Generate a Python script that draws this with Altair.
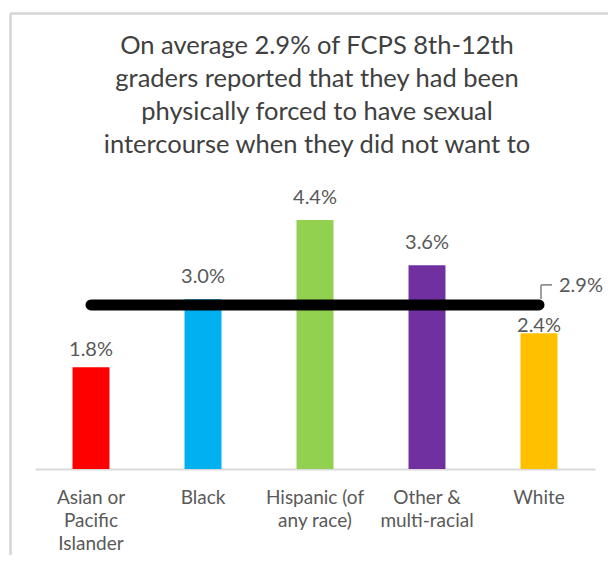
import altair as alt
import pandas as pd

categories = ["Asian or Pacific Islander", "Black", "Hispanic (of any race)", "Other & multi-racial", "White"]
values = [1.8, 3.0, 4.4, 3.6, 2.4]
colors = ["#FF0000", "#00B0F0", "#92D050", "#7030A0", "#FFC000"]
average = 2.9
title_lines = [
    "On average 2.9% of FCPS 8th-12th",
    "graders reported that they had been",
    "physically forced to have sexual",
    "intercourse when they did not want to",
]

df = pd.DataFrame({"group": categories, "pct": values})
df["label"] = [f"{v:.1f}%" for v in values]
avg_df = pd.DataFrame({"avg": [average], "group": [categories[-1]], "label": [f"{average}%"]})

FONT = "Lato"

x_scale = alt.Scale(domain=categories, range=[25, 585], paddingInner=0.67, paddingOuter=0.335)
y_scale = alt.Scale(domain=[0, 4.4], range=[456, 207], nice=False, zero=True)

label_expr = (
    "datum.value == 'Asian or Pacific Islander' ? ['Asian or', 'Pacific', 'Islander'] : "
    "datum.value == 'Hispanic (of any race)' ? ['Hispanic (of', 'any race)'] : "
    "datum.value == 'Other & multi-racial' ? ['Other &', 'multi-racial'] : datum.value"
)

x_enc = alt.X(
    "group:N",
    scale=x_scale,
    sort=categories,
    axis=alt.Axis(
        title=None,
        labelAngle=0,
        ticks=False,
        domainColor="#d9d9d9",
        domainWidth=2,
        labelFont=FONT,
        labelFontSize=19,
        labelColor="#595959",
        labelPadding=19,
        labelBaseline="top",
        labelLineHeight=23,
        labelExpr=label_expr,
        offset=-104,
        orient="bottom",
    ),
)
y_enc = alt.Y("pct:Q", scale=y_scale, axis=None)

base = alt.Chart(df)
avg_base = alt.Chart(avg_df)

bars = base.mark_bar().encode(
    x=x_enc,
    y=y_enc,
    color=alt.Color("group:N", scale=alt.Scale(domain=categories, range=colors), legend=None),
)

def labels(filter_expr, dy):
    return base.transform_filter(filter_expr).mark_text(
        font=FONT, fontSize=20, color="#595959", baseline="alphabetic", dy=dy
    ).encode(x=alt.X("group:N", scale=x_scale, sort=categories), y=alt.Y("pct:Q", scale=y_scale), text="label:N")

lab_main = labels("datum.group != 'White' && datum.group != 'Asian or Pacific Islander'", -16)
lab_asian = labels("datum.group == 'Asian or Pacific Islander'", -11)
lab_white = labels("datum.group == 'White'", -1)

avg_line = avg_base.mark_rule(color="#000000", strokeWidth=11, strokeCap="round").encode(
    x=alt.datum(categories[0], scale=x_scale),
    x2=alt.datum(categories[-1]),
    y=alt.Y("avg:Q", scale=y_scale),
)

leader_v = avg_base.mark_rule(color="#7f7f7f", strokeWidth=1.5, xOffset=2, yOffset=-6, y2Offset=-20).encode(
    x=alt.X("group:N", scale=x_scale),
    y=alt.Y("avg:Q", scale=y_scale),
    y2="avg:Q",
)
leader_h = avg_base.mark_rule(color="#7f7f7f", strokeWidth=1.5, xOffset=2, x2Offset=13, yOffset=-20).encode(
    x=alt.X("group:N", scale=x_scale),
    x2="group:N",
    y=alt.Y("avg:Q", scale=y_scale),
)

avg_label = avg_base.mark_text(
    font=FONT, fontSize=20, color="#595959", align="left", baseline="alphabetic", dx=20, dy=-13
).encode(
    x=alt.X("group:N", scale=x_scale),
    y=alt.Y("avg:Q", scale=y_scale),
    text="label:N",
)

main = alt.layer(bars, lab_main, lab_asian, lab_white, avg_line, leader_v, leader_h, avg_label)

frame_axis = dict(domainColor="#d4d4d4", domainWidth=2.5, labels=False, ticks=False, grid=False, title=None)
frame = avg_base.mark_point(opacity=0).encode(
    x=alt.X("avg:Q", scale=alt.Scale(domain=[0, 10], nice=False, zero=False), axis=alt.Axis(orient="top", **frame_axis)),
    y=alt.Y("avg:Q", scale=alt.Scale(domain=[0, 10], nice=False, zero=False), axis=alt.Axis(orient="left", **frame_axis)),
)

chart = (
    alt.layer(main, frame)
    .resolve_scale(x="independent", y="independent")
    .resolve_axis(x="independent", y="independent")
    .properties(
        width=620,
        height=560,
        padding={"left": 2, "top": 5, "right": -22, "bottom": -18},
        autosize=alt.AutoSizeParams(type="none"),
        title=alt.TitleParams(
            text=title_lines,
            font=FONT,
            fontSize=25.5,
            fontWeight="normal",
            color="#404040",
            anchor="middle",
            frame="group",
            lineHeight=33,
            offset=-145,
            dx=-3,
        ),
    )
    .configure_view(stroke=None)
)

chart.save("out.html", embed_options={"renderer": "svg", "actions": False})
